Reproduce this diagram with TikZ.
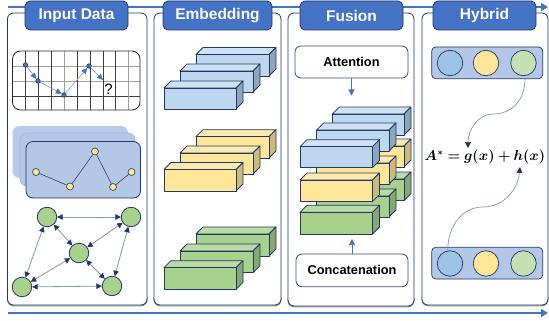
\documentclass[tikz,border=0pt]{standalone}
\usepackage{fontspec}
\usepackage{amsmath,bm}
\setmainfont{Liberation Sans}
\usetikzlibrary{arrows.meta}
\definecolor{navy}{HTML}{1F3864}
\definecolor{hdr}{HTML}{4472C4}
\definecolor{tray}{HTML}{B4C7E7}
\definecolor{edgec}{HTML}{8497B0}
\definecolor{bluef}{HTML}{BDD7EE}\definecolor{bluet}{HTML}{CFE2F3}\definecolor{blues}{HTML}{8EA5BC}
\definecolor{yelf}{HTML}{FFE699}\definecolor{yelt}{HTML}{FFEBB0}\definecolor{yels}{HTML}{CDB97C}
\definecolor{grnf}{HTML}{A9D18E}\definecolor{grnt}{HTML}{BBDBA5}\definecolor{grns}{HTML}{88A873}
\definecolor{cblue}{HTML}{9DC3E6}\definecolor{cgreen}{HTML}{C5E0B4}
\tikzset{
  panel/.style={draw=navy,line width=.8pt,fill=white,rounded corners=6pt,inner sep=0pt},
  header/.style={draw=navy,line width=.7pt,fill=hdr,rounded corners=5pt,text=white,font=\fontsize{15.5}{17}\selectfont\bfseries,inner sep=0pt},
  label/.style={draw=navy!70!gray,line width=.8pt,fill=white,rounded corners=6pt,font=\fontsize{12.8}{14}\selectfont\bfseries,inner sep=0pt},
  graphnode/.style={circle,draw=navy,line width=.8pt,fill=grnf,minimum size=19.5pt,inner sep=0pt},
  dotnode/.style={circle,draw=navy,line width=.6pt,fill=hdr,minimum size=4.5pt,inner sep=0pt},
  yelnode/.style={circle,draw=navy,line width=.6pt,fill=yelf,minimum size=7pt,inner sep=0pt},
  bigc/.style={circle,draw=navy,line width=.7pt,minimum size=25.5pt,inner sep=0pt},
  tray box/.style={draw=navy,line width=.7pt,fill=tray,rounded corners=4pt,inner sep=0pt},
  flow/.style={draw=hdr,line width=2pt,-{Triangle[length=7pt,width=8pt]}},
  twoway/.style={draw=edgec,line width=.8pt,{Triangle[length=5.5pt,width=5.5pt,color=navy]}-{Triangle[length=5.5pt,width=5.5pt,color=navy]}},
  traj/.style={draw=hdr!70!white,line width=.6pt,-{Triangle[length=6pt,width=5.5pt,color=hdr]}},
  down/.style={draw=hdr,line width=.6pt,-{Triangle[length=6pt,width=6pt,color=hdr]}},
  swoop/.style={draw=edgec,line width=.7pt,-{Triangle[length=6pt,width=6pt,color=navy]}},
}
\newcommand{\bx}[7]{\node[#2,minimum width={(#5-#3)*1pt},minimum height={(#6-#4)*1pt}] (#1) at ({(#3+#5)/2},{(#4+#6)/2}) {#7};}
\newcommand{\cub}[5]{%
  \draw[navy,line width=.75pt,line join=round,fill=#5t] (#1,#2) -- ++(7,-7) -- ({#3+7},{#2-7}) -- (#3,#2) -- cycle;
  \draw[navy,line width=.75pt,line join=round,fill=#5s] (#3,#2) -- ({#3+7},{#2-7}) -- ({#3+7},{#4-7}) -- (#3,#4) -- cycle;
  \draw[navy,line width=.75pt,line join=round,fill=#5f] (#1,#2) rectangle (#3,#4);
}
\begin{document}
\begin{tikzpicture}[x=1pt,y=-1pt]
\useasboundingbox (0,0) rectangle (549,321);
\coordinate (topL) at (8,7); \coordinate (topR) at (548,7);
\coordinate (botL) at (8,313); \coordinate (botR) at (548,313);
\draw[flow] (topL) -- (topR);
\draw[flow] (botL) -- (botR);
\foreach \a/\b/\c in {7.5/147/305,154/281/305,288/414/306,422/548/305}{
  \draw[gray!90,line width=1pt,rounded corners=6pt] (\a,{\c-8}) -- (\a,{\c+.8}) -- (\b,{\c+.8}) -- (\b,{\c-8});
}
\bx{p1}{panel}{7.5}{13}{147}{305}{}
\bx{p2}{panel}{154}{13}{281}{305}{}
\bx{p3}{panel}{288}{13}{414}{306}{}
\bx{p4}{panel}{422}{13}{548}{305}{}
\bx{h1}{header}{25}{1}{128}{30}{Input Data}
\bx{h2}{header}{163}{1}{272}{30}{Embedding}
\bx{h3}{header}{300}{1}{403}{30}{Fusion}
\bx{h4}{header}{433}{1}{536}{30}{Hybrid}
\begin{scope}
\clip[rounded corners=8pt] (12.5,51) rectangle (140,110);
\fill[white] (12.5,51) rectangle (140,110);
\foreach \y in {66,81}{\draw[gray!75,line width=.8pt] (12.5,\y) -- (140,\y);}
\draw[black!75,line width=.6pt] (12.5,96) -- (140,96);
\foreach \x in {25.5,38.5,51.5,77,90,103,115.5}{\draw[black!75,line width=.6pt] (\x,51) -- (\x,110);}
\foreach \x in {64.5,128}{\draw[gray!75,line width=.8pt] (\x,51) -- (\x,110);}
\end{scope}
\draw[black!85,line width=.8pt,rounded corners=8pt] (12.5,51) rectangle (140,110);
\node[dotnode] (t1) at (25.5,65) {};
\node[dotnode] (t2) at (38,81) {};
\node[dotnode] (t3) at (64,95) {};
\node[dotnode] (t4) at (89,66) {};
\coordinate (t5) at (103,80);
\draw[traj] (t1) -- (t2);
\draw[traj] (t2) -- (t3);
\draw[traj] (t3) -- (t4);
\draw[traj] (t4) -- (t5);
\node[font=\fontsize{15}{16}\selectfont] (q) at (108.5,89) {?};
\fill[tray!95!white,rounded corners=7pt] (12.5,126) rectangle (128,178);
\draw[hdr!50!white,line width=.7pt,fill=tray,rounded corners=7pt] (20,133) rectangle (135,186);
\draw[navy,line width=.8pt,fill=tray,rounded corners=7pt] (26,141.5) rectangle (140.5,198);
\node[yelnode] (y1) at (36,172) {};
\node[yelnode] (y2) at (70,186.5) {};
\node[yelnode] (y3) at (95,151.5) {};
\node[yelnode] (y4) at (113,187) {};
\node[yelnode] (y5) at (131.5,172) {};
\draw[navy!80!black,line width=.5pt] (y1) -- (y2);
\draw[navy!80!black,line width=.5pt] (y2) -- (y3);
\draw[navy!80!black,line width=.5pt] (y3) -- (y4);
\draw[navy!80!black,line width=.5pt] (y4) -- (y5);
\node[graphnode] (a) at (47,217) {};
\node[graphnode] (b) at (131,217) {};
\node[graphnode] (c) at (79,253) {};
\node[graphnode] (d) at (22,287) {};
\node[graphnode] (e) at (112,286) {};
\draw[twoway] (a) -- (b);
\draw[twoway] (a) -- (c);
\draw[twoway] (a) -- (d);
\draw[twoway] (b) -- (c);
\draw[twoway] (b) -- (e);
\draw[twoway] (c) -- (d);
\draw[twoway] (c) -- (e);
\draw[twoway] (d) -- (e);
\cub{196}{54.5}{269}{76}{blue}
\cub{180}{71}{253}{92}{blue}
\cub{164}{88}{236}{109}{blue}
\cub{196}{136.7}{269}{158}{yel}
\cub{180}{153}{253}{174}{yel}
\cub{164}{169.5}{236}{191}{yel}
\cub{196}{234}{269}{256}{grn}
\cub{180}{251}{253}{272.7}{grn}
\cub{164}{267.7}{236}{289.3}{grn}
\bx{att}{label}{295}{46}{408}{78}{Attention}
\bx{con}{label}{296}{254}{408}{286.7}{Concatenation}
\coordinate (fa) at (351.5,95.5);
\coordinate (fc) at (352,239);
\draw[down] (att) -- (fa);
\draw[down] (con) -- (fc);
\cub{332.3}{114}{404}{135}{blue}
\cub{332.3}{146}{404}{167}{yel}
\cub{332.3}{179}{404}{200.7}{grn}
\cub{316.7}{130}{389}{151}{blue}
\cub{316.7}{163}{389}{184}{yel}
\cub{316.7}{196}{389}{217}{grn}
\cub{300}{146.7}{372.5}{167.7}{blue}
\cub{300}{180}{372.5}{201.7}{yel}
\cub{300}{212.3}{372.5}{234}{grn}
\bx{b1}{tray box}{431.7}{47}{542.7}{78.7}{}
\bx{b2}{tray box}{431.7}{247.3}{542.7}{279}{}
\node[bigc,fill=cblue] (c1) at (450,63) {};
\node[bigc,fill=yelf] (c2) at (486,63) {};
\node[bigc,fill=cgreen] (c3) at (523.5,63) {};
\node[bigc,fill=cblue] (c4) at (450,263.5) {};
\node[bigc,fill=yelf] (c5) at (486,263.5) {};
\node[bigc,fill=cgreen] (c6) at (523.5,263.5) {};
\node[inner sep=0pt,font=\fontsize{14}{16}\selectfont] (f) at (485,157) {$\bm{A^{*}=g(x)+h(x)}$};
\coordinate (s1) at (525,78.7);
\coordinate (e1) at (468,148);
\coordinate (s2) at (447.7,250);
\coordinate (e2) at (520,167);
\draw[swoop] (s1) .. controls (525,100) and (512,114) .. (493,114) .. controls (478,114) and (468,130) .. (e1);
\draw[swoop] (s2) .. controls (448,226) and (462,207) .. (483,207) .. controls (505,207) and (518,188) .. (e2);
\end{tikzpicture}
\end{document}
